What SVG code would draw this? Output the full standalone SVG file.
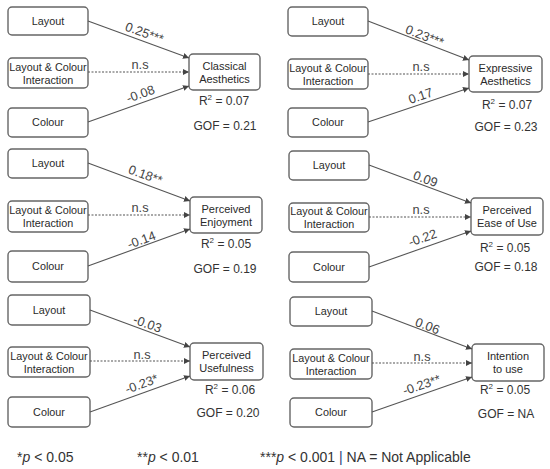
<svg xmlns="http://www.w3.org/2000/svg" width="550" height="469" viewBox="0 0 550 469">
<defs>
<marker id="ah" markerUnits="userSpaceOnUse" markerWidth="7" markerHeight="6" refX="6" refY="3" orient="auto">
<path d="M0,0 L6,3 L0,6 z" fill="#444"/>
</marker>
<style>
.box{fill:#fff;stroke:#666;stroke-width:1.4}
.bt{font-family:"Liberation Sans",Arial,sans-serif;font-size:10.8px;fill:#2a2a2a;text-anchor:middle}
.tt{font-family:"Liberation Sans",Arial,sans-serif;font-size:11px;fill:#2a2a2a;text-anchor:middle}
.lab{font-family:"Liberation Sans",Arial,sans-serif;font-size:12.8px;fill:#444;text-anchor:middle}
.st{font-family:"Liberation Sans",Arial,sans-serif;font-size:12px;fill:#333;text-anchor:middle}
.ln{stroke:#555;stroke-width:1.1;fill:none;marker-end:url(#ah)}
.dt{stroke:#555;stroke-width:1.1;fill:none;stroke-dasharray:2,1.5;marker-end:url(#ah)}
.ft{font-family:"Liberation Sans",Arial,sans-serif;font-size:14px;fill:#333}
</style>
</defs>
<rect width="550" height="469" fill="#fff"/>

<!-- Panel 1 -->
<g id="p1-layout"><rect class="box" x="8" y="7" width="80" height="28" rx="4"/><text class="bt" x="48" y="25">Layout</text></g>
<g id="p1-inter"><rect class="box" x="8" y="58" width="80" height="30" rx="4"/><text class="bt" x="48" y="71">Layout &amp; Colour</text><text class="bt" x="48" y="84">Interaction</text></g>
<g id="p1-colour"><rect class="box" x="8" y="108" width="80" height="29" rx="4"/><text class="bt" x="48" y="126">Colour</text></g>
<g id="p1-target"><rect class="box" x="189" y="54" width="71" height="36" rx="4"/><text class="tt" x="224.5" y="70">Classical</text><text class="tt" x="224.5" y="83">Aesthetics</text>
<text class="st" x="224" y="105">R<tspan dy="-5" font-size="8">2</tspan><tspan dy="5"> = 0.07</tspan></text><text class="st" x="225" y="130">GOF = 0.21</text></g>

<!-- Panel 2 -->
<g id="p2-layout"><rect class="box" x="288" y="7" width="80" height="29" rx="4"/><text class="bt" x="328" y="25">Layout</text></g>
<g id="p2-inter"><rect class="box" x="288" y="59" width="80" height="30" rx="4"/><text class="bt" x="328" y="72">Layout &amp; Colour</text><text class="bt" x="328" y="85">Interaction</text></g>
<g id="p2-colour"><rect class="box" x="288" y="108" width="80" height="29" rx="4"/><text class="bt" x="328" y="126">Colour</text></g>
<g id="p2-target"><rect class="box" x="469" y="56" width="73" height="36" rx="4"/><text class="tt" x="505.5" y="72">Expressive</text><text class="tt" x="505.5" y="85">Aesthetics</text>
<text class="st" x="507" y="109">R<tspan dy="-5" font-size="8">2</tspan><tspan dy="5"> = 0.07</tspan></text><text class="st" x="506" y="131">GOF = 0.23</text></g>

<!-- Panel 3 -->
<g id="p3-layout"><rect class="box" x="8" y="149" width="80" height="29" rx="4"/><text class="bt" x="48" y="167">Layout</text></g>
<g id="p3-inter"><rect class="box" x="8" y="201" width="80" height="31" rx="4"/><text class="bt" x="48" y="214">Layout &amp; Colour</text><text class="bt" x="48" y="227">Interaction</text></g>
<g id="p3-colour"><rect class="box" x="8" y="251" width="80" height="31" rx="4"/><text class="bt" x="48" y="270">Colour</text></g>
<g id="p3-target"><rect class="box" x="190" y="197" width="72" height="36" rx="4"/><text class="tt" x="226" y="213">Perceived</text><text class="tt" x="226" y="226">Enjoyment</text>
<text class="st" x="226" y="248">R<tspan dy="-5" font-size="8">2</tspan><tspan dy="5"> = 0.05</tspan></text><text class="st" x="225" y="273">GOF = 0.19</text></g>

<!-- Panel 4 -->
<g id="p4-layout"><rect class="box" x="289" y="151" width="80" height="29" rx="4"/><text class="bt" x="329" y="169">Layout</text></g>
<g id="p4-inter"><rect class="box" x="289" y="203" width="80" height="29" rx="4"/><text class="bt" x="329" y="215">Layout &amp; Colour</text><text class="bt" x="329" y="228">Interaction</text></g>
<g id="p4-colour"><rect class="box" x="289" y="252" width="80" height="30" rx="4"/><text class="bt" x="329" y="271">Colour</text></g>
<g id="p4-target"><rect class="box" x="471" y="198" width="72" height="37" rx="4"/><text class="tt" x="507" y="214">Perceived</text><text class="tt" x="507" y="227">Ease of Use</text>
<text class="st" x="505" y="252">R<tspan dy="-5" font-size="8">2</tspan><tspan dy="5"> = 0.05</tspan></text><text class="st" x="506" y="271">GOF = 0.18</text></g>

<!-- Panel 5 -->
<g id="p5-layout"><rect class="box" x="8" y="295" width="82" height="30" rx="4"/><text class="bt" x="49" y="314">Layout</text></g>
<g id="p5-inter"><rect class="box" x="8" y="347" width="82" height="30" rx="4"/><text class="bt" x="49" y="360">Layout &amp; Colour</text><text class="bt" x="49" y="373">Interaction</text></g>
<g id="p5-colour"><rect class="box" x="8" y="397" width="82" height="30" rx="4"/><text class="bt" x="49" y="416">Colour</text></g>
<g id="p5-target"><rect class="box" x="190" y="343" width="73" height="37" rx="4"/><text class="tt" x="226.5" y="359">Perceived</text><text class="tt" x="226.5" y="372">Usefulness</text>
<text class="st" x="230" y="394">R<tspan dy="-5" font-size="8">2</tspan><tspan dy="5"> = 0.06</tspan></text><text class="st" x="228" y="417">GOF = 0.20</text></g>

<!-- Panel 6 -->
<g id="p6-layout"><rect class="box" x="290" y="297" width="82" height="29" rx="4"/><text class="bt" x="331" y="315">Layout</text></g>
<g id="p6-inter"><rect class="box" x="290" y="349" width="82" height="30" rx="4"/><text class="bt" x="331" y="362">Layout &amp; Colour</text><text class="bt" x="331" y="375">Interaction</text></g>
<g id="p6-colour"><rect class="box" x="290" y="398" width="82" height="29" rx="4"/><text class="bt" x="331" y="416">Colour</text></g>
<g id="p6-target"><rect class="box" x="472" y="344" width="72" height="37" rx="4"/><text class="tt" x="508" y="360">Intention</text><text class="tt" x="508" y="373">to use</text>
<text class="st" x="505" y="394">R<tspan dy="-5" font-size="8">2</tspan><tspan dy="5"> = 0.05</tspan></text><text class="st" x="506" y="418">GOF = NA</text></g>

<g id="connectors">
<line class="ln" x1="88" y1="21" x2="189" y2="58"/>
<line class="dt" x1="88" y1="72" x2="189" y2="72"/>
<line class="ln" x1="88" y1="122" x2="189" y2="86"/>
<text class="lab" x="143" y="37" transform="rotate(20 143 37)">0.25***</text>
<text class="lab" x="140" y="69">n.s</text>
<text class="lab" x="142" y="98" transform="rotate(-20 142 98)">-0.08</text>

<line class="ln" x1="368" y1="21" x2="469" y2="60"/>
<line class="dt" x1="368" y1="74" x2="469" y2="74"/>
<line class="ln" x1="368" y1="122" x2="469" y2="88"/>
<text class="lab" x="423" y="40" transform="rotate(21 423 40)">0.23***</text>
<text class="lab" x="421" y="71">n.s</text>
<text class="lab" x="422" y="100" transform="rotate(-19 422 100)">0.17</text>

<line class="ln" x1="88" y1="163" x2="190" y2="201"/>
<line class="dt" x1="88" y1="215" x2="190" y2="215"/>
<line class="ln" x1="88" y1="266" x2="190" y2="229"/>
<text class="lab" x="144" y="179" transform="rotate(20 144 179)">0.18**</text>
<text class="lab" x="140" y="212">n.s</text>
<text class="lab" x="143" y="244" transform="rotate(-20 143 244)">-0.14</text>

<line class="ln" x1="369" y1="165" x2="471" y2="203"/>
<line class="dt" x1="369" y1="217" x2="471" y2="217"/>
<line class="ln" x1="369" y1="267" x2="471" y2="231"/>
<text class="lab" x="424" y="183" transform="rotate(20 424 183)">0.09</text>
<text class="lab" x="421" y="214">n.s</text>
<text class="lab" x="424" y="242" transform="rotate(-19 424 242)">-0.22</text>

<line class="ln" x1="90" y1="310" x2="190" y2="347"/>
<line class="dt" x1="90" y1="361" x2="190" y2="361"/>
<line class="ln" x1="90" y1="412" x2="190" y2="376"/>
<text class="lab" x="146" y="328" transform="rotate(20 146 328)">-0.03</text>
<text class="lab" x="142" y="359">n.s</text>
<text class="lab" x="143" y="388" transform="rotate(-20 143 388)">-0.23*</text>

<line class="ln" x1="372" y1="311" x2="472" y2="349"/>
<line class="dt" x1="372" y1="363" x2="472" y2="363"/>
<line class="ln" x1="372" y1="412" x2="472" y2="377"/>
<text class="lab" x="426" y="330" transform="rotate(21 426 330)">0.06</text>
<text class="lab" x="422" y="361">n.s</text>
<text class="lab" x="423" y="389" transform="rotate(-19 423 389)">-0.23**</text>
</g>

<g id="footer">
<text class="ft" x="17" y="462">*<tspan font-style="italic">p</tspan> &lt; 0.05</text>
<text class="ft" x="137" y="462">**<tspan font-style="italic">p</tspan> &lt; 0.01</text>
<text class="ft" x="260" y="462">***<tspan font-style="italic">p</tspan> &lt; 0.001 <tspan fill="#2a3a7a">|</tspan> NA = Not Applicable</text>
</g>
</svg>
